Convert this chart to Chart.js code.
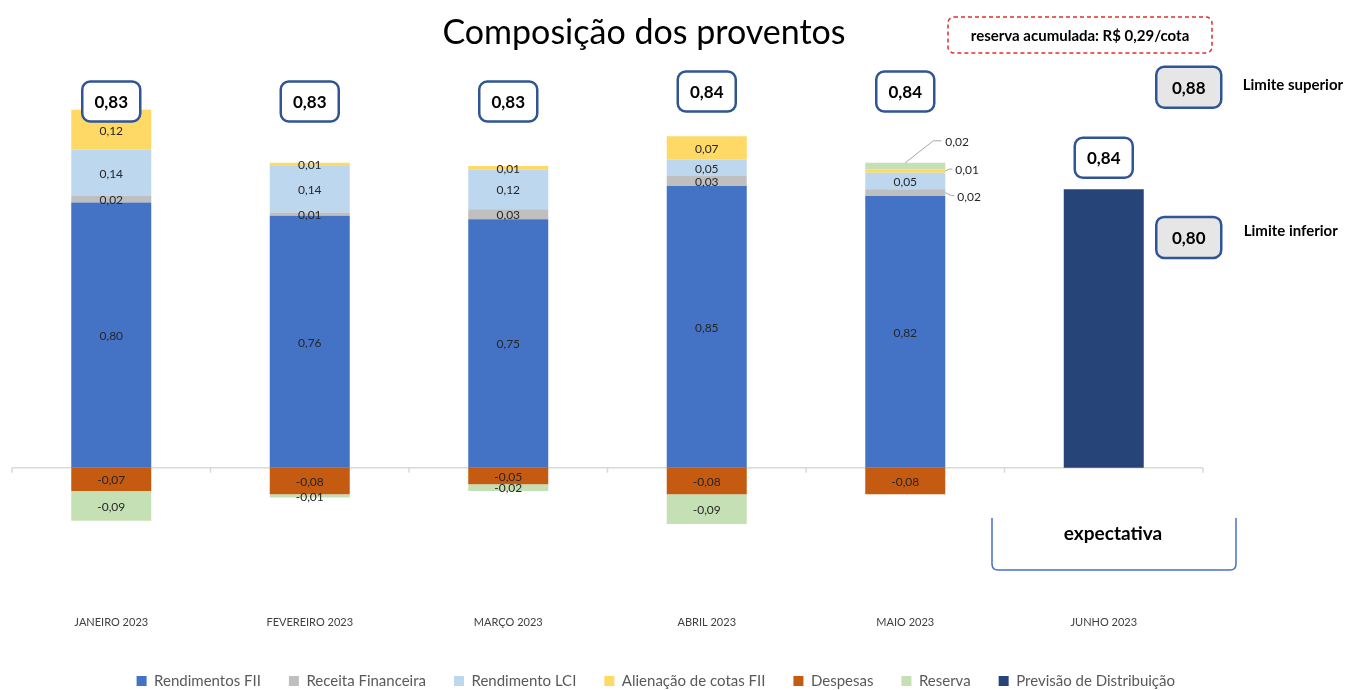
<!DOCTYPE html>
<html><head><meta charset="utf-8">
<script src="https://cdn.jsdelivr.net/npm/chart.js@4/dist/chart.umd.min.js"></script>
<style>html,body{margin:0;padding:0;background:#fff;overflow:hidden}</style>
</head><body>
<canvas id="c" width="1351" height="690"></canvas>
<script>
const categories = ['JANEIRO 2023','FEVEREIRO 2023','MARÇO 2023','ABRIL 2023','MAIO 2023','JUNHO 2023'];
const rendimentosFII    = [0.80, 0.76, 0.75, 0.85, 0.82, null];
const receitaFinanceira = [0.02, 0.01, 0.03, 0.03, 0.02, null];
const rendimentoLCI     = [0.14, 0.14, 0.12, 0.05, 0.05, null];
const alienacaoCotas    = [0.12, 0.01, 0.01, 0.07, 0.01, null];
const despesas          = [-0.07, -0.08, -0.05, -0.08, -0.08, null];
const reserva           = [-0.09, -0.01, -0.02, -0.09, 0.02, null];
const previsao          = [null, null, null, null, null, 0.84];
const totais            = [0.83, 0.83, 0.83, 0.84, 0.84, 0.84];
const limiteSuperior = 0.88;
const limiteInferior = 0.80;
const reservaAcumulada = 'reserva acumulada: R$ 0,29/cota';

const FONT = 'Lato, "Noto Sans", sans-serif';
const fmt = v => v.toFixed(2).replace('.', ',');

function rr(ctx, x, y, w, h, r) {
  ctx.beginPath();
  ctx.moveTo(x + r, y);
  ctx.arcTo(x + w, y, x + w, y + h, r);
  ctx.arcTo(x + w, y + h, x, y + h, r);
  ctx.arcTo(x, y + h, x, y, r);
  ctx.arcTo(x, y, x + w, y, r);
  ctx.closePath();
}
function box(ctx, cx, cy, w, h, text, fill) {
  rr(ctx, cx - w / 2, cy - h / 2, w, h, 8);
  ctx.fillStyle = fill; ctx.fill();
  ctx.lineWidth = 2.5; ctx.strokeStyle = '#2F5597'; ctx.stroke();
  ctx.fillStyle = '#000'; ctx.font = 'bold 17px ' + FONT;
  ctx.textAlign = 'center'; ctx.textBaseline = 'middle';
  ctx.fillText(text, cx, cy + 1);
}

// placement of annotations (value space on the y scale)
const totalBoxAt = [1.105, 1.105, 1.105, 1.135, 1.135, 0.935];
const callouts = { '1-4': 'down', '3-4': 'flat', '5-4': 'up' };

const annot = {
  id: 'annot',
  beforeDatasetsDraw(chart) {
    const {ctx, chartArea: a, scales: {x, y}} = chart;
    const y0 = y.getPixelForValue(0);
    ctx.save();
    ctx.strokeStyle = '#D9D9D9'; ctx.lineWidth = 1.5;
    ctx.beginPath(); ctx.moveTo(a.left, y0); ctx.lineTo(a.right, y0); ctx.stroke();
    const step = (a.right - a.left) / categories.length;
    for (let i = 0; i <= categories.length; i++) {
      const px = a.left + i * step;
      ctx.beginPath(); ctx.moveTo(px, y0); ctx.lineTo(px, y0 + 5); ctx.stroke();
    }
    ctx.restore();
  },
  afterDatasetsDraw(chart) {
    const {ctx} = chart;
    ctx.save();
    ctx.font = '12px ' + FONT;
    ctx.textAlign = 'center'; ctx.textBaseline = 'middle';
    chart.data.datasets.forEach((ds, d) => {
      if (d === 6) return;
      const meta = chart.getDatasetMeta(d);
      meta.data.forEach((bar, i) => {
        const v = ds.data[i];
        if (v === null || v === undefined) return;
        const cy = (bar.y + bar.base) / 2;
        const kind = callouts[d + '-' + i];
        ctx.fillStyle = '#262626';
        if (!kind) { ctx.textAlign = 'center'; ctx.fillText(fmt(v), bar.x, cy + 1); return; }
        const xr = bar.x + bar.width / 2;
        ctx.strokeStyle = '#A6A6A6'; ctx.lineWidth = 1;
        ctx.beginPath();
        let tx, ty;
        if (kind === 'up') {
          const top = Math.min(bar.y, bar.base);
          ctx.moveTo(bar.x, top); ctx.lineTo(bar.x + 28, top - 22); ctx.lineTo(bar.x + 36, top - 22);
          tx = bar.x + 40; ty = top - 21;
        } else if (kind === 'flat') {
          ctx.moveTo(xr, cy); ctx.lineTo(xr + 4, cy - 2); ctx.lineTo(xr + 7, cy - 2);
          tx = xr + 10; ty = cy - 1;
        } else {
          ctx.moveTo(xr, cy); ctx.lineTo(xr + 6, cy + 3); ctx.lineTo(xr + 9, cy + 3);
          tx = xr + 12; ty = cy + 4;
        }
        ctx.stroke();
        ctx.textAlign = 'left';
        ctx.fillText(fmt(v), tx, ty);
      });
    });
    ctx.restore();
  },
  afterDraw(chart) {
    const {ctx, scales: {x, y}} = chart;
    ctx.save();
    // title
    ctx.fillStyle = '#000'; ctx.font = '34px ' + FONT;
    ctx.textAlign = 'center'; ctx.textBaseline = 'middle';
    ctx.fillText('Composição dos proventos', 644, 33);
    // totals
    totais.forEach((t, i) => box(ctx, x.getPixelForValue(i), y.getPixelForValue(totalBoxAt[i]), 58, 40, fmt(t), '#FFFFFF'));
    // limits
    const xj = x.getPixelForValue(5) + 85;
    box(ctx, xj, y.getPixelForValue(1.148), 65, 41, fmt(limiteSuperior), '#E7E6E6');
    box(ctx, xj, y.getPixelForValue(0.695), 65, 41, fmt(limiteInferior), '#E7E6E6');
    ctx.fillStyle = '#000'; ctx.font = 'bold 15px ' + FONT; ctx.textAlign = 'left';
    ctx.fillText('Limite superior', xj + 54, y.getPixelForValue(1.148) - 2);
    ctx.fillText('Limite inferior', xj + 55, y.getPixelForValue(0.695) - 6);
    // reserva acumulada box
    rr(ctx, 948, 17, 264, 36, 6);
    ctx.setLineDash([4, 3]); ctx.strokeStyle = '#E0302F'; ctx.lineWidth = 1.5; ctx.stroke();
    ctx.setLineDash([]);
    ctx.fillStyle = '#000'; ctx.font = 'bold 15px ' + FONT; ctx.textAlign = 'center';
    ctx.fillText(reservaAcumulada, 1080, 36);
    // expectativa bracket
    const bx0 = 992, bx1 = 1236, by0 = 518, by1 = 570;
    ctx.strokeStyle = '#4472C4'; ctx.lineWidth = 1.5;
    ctx.beginPath();
    ctx.moveTo(bx0, by0); ctx.lineTo(bx0, by1 - 6); ctx.quadraticCurveTo(bx0, by1, bx0 + 6, by1);
    ctx.lineTo(bx1 - 6, by1); ctx.quadraticCurveTo(bx1, by1, bx1, by1 - 6); ctx.lineTo(bx1, by0);
    ctx.stroke();
    ctx.fillStyle = '#000'; ctx.font = 'bold 19px ' + FONT;
    ctx.fillText('expectativa', 1113, 534);
    ctx.restore();
  }
};

const mk = (label, data, color) => ({label, data, backgroundColor: color, stack: 's', borderWidth: 0,
  categoryPercentage: 1, barPercentage: 0.403});

new Chart(document.getElementById('c'), {
  type: 'bar',
  data: {
    labels: categories,
    datasets: [
      mk('Rendimentos FII', rendimentosFII, '#4472C4'),
      mk('Receita Financeira', receitaFinanceira, '#BFBFBF'),
      mk('Rendimento LCI', rendimentoLCI, '#BDD7EE'),
      mk('Alienação de cotas FII', alienacaoCotas, '#FFD966'),
      mk('Despesas', despesas, '#C55A11'),
      mk('Reserva', reserva, '#C5E0B4'),
      mk('Previsão de Distribuição', previsao, '#264478')
    ]
  },
  options: {
    responsive: false, animation: false, devicePixelRatio: 1,
    layout: {padding: {left: 12, right: 148, top: 70, bottom: -8.5}},
    scales: {
      x: {stacked: true, grid: {display: false, drawTicks: false}, border: {display: false},
          ticks: {font: {family: FONT, size: 11}, color: '#404040', padding: 16, maxRotation: 0}},
      y: {stacked: true, display: false, min: -0.4, max: 1.2}
    },
    plugins: {
      legend: {position: 'bottom', align: 'end',
        labels: {boxWidth: 10, boxHeight: 10, padding: 28, color: '#595959', font: {family: FONT, size: 15}}},
      tooltip: {enabled: false}
    }
  },
  plugins: [annot]
});
</script>
</body></html>
